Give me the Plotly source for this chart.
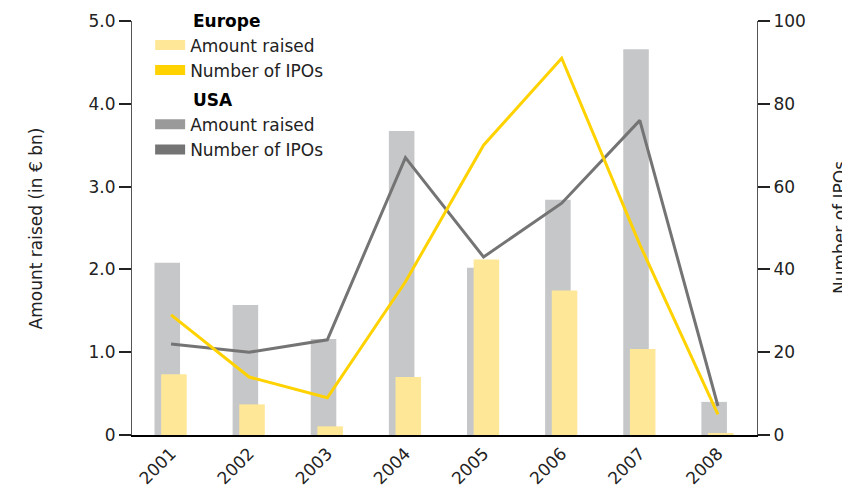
import plotly.graph_objects as go

years = ["2001", "2002", "2003", "2004", "2005", "2006", "2007", "2008"]
usa_amount = [2.08, 1.57, 1.16, 3.67, 2.02, 2.84, 4.66, 0.40]
europe_amount = [0.735, 0.37, 0.105, 0.70, 2.12, 1.745, 1.04, 0.015]
usa_ipos = [22, 20, 23, 67, 43, 56, 76, 7]
europe_ipos = [29, 14, 9, 37, 70, 91, 46, 5]

left_ticks = [0, 1, 2, 3, 4, 5]
left_ticklabels = ["0", "1.0", "2.0", "3.0", "4.0", "5.0"]
right_ticks = [0, 20, 40, 60, 80, 100]

C_EU_BAR = "#fee898"
C_EU_LINE = "#ffd200"
C_US_BAR = "#c6c7c9"
C_US_BAR_LEG = "#9a9a9a"
C_US_LINE = "#747474"
FONT = "DejaVu Sans"
TXT = "#222222"
FS = 17

fig = go.Figure()

fig.add_trace(go.Bar(x=years, y=usa_amount, marker_color=C_US_BAR, marker_line_width=0,
                     width=0.327, offset=-0.212, showlegend=False, yaxis="y"))
fig.add_trace(go.Bar(x=years, y=europe_amount, marker_color=C_EU_BAR, marker_line_width=0,
                     width=0.327, offset=-0.127, showlegend=False, yaxis="y"))
fig.add_trace(go.Scatter(x=years, y=usa_ipos, mode="lines", line=dict(color=C_US_LINE, width=3),
                         showlegend=False, yaxis="y2"))
fig.add_trace(go.Scatter(x=years, y=europe_ipos, mode="lines", line=dict(color=C_EU_LINE, width=3),
                         showlegend=False, yaxis="y2"))

# legend entries
pad = "\u00a0" * 7
leg = [
    ("Europe", "Amount raised", C_EU_BAR),
    ("Europe", "Number of IPOs", C_EU_LINE),
    ("USA", "Amount raised", C_US_BAR_LEG),
    ("USA", "Number of IPOs", C_US_LINE),
]
for grp, name, col in leg:
    fig.add_trace(go.Scatter(x=[None], y=[None], mode="lines", name=name,
                             line=dict(color=col, width=14),
                             legendgroup=grp,
                             legendgrouptitle=dict(text=pad + "<b>" + grp + "</b>",
                                                   font=dict(size=FS, color="#000000", family=FONT))))

# page body has an 8px default margin, so the figure is sized to fit the 850x490 window
fig.update_layout(
    width=842, height=482,
    margin=dict(l=124, r=93, t=13, b=55, autoexpand=False),
    paper_bgcolor="white", plot_bgcolor="white",
    barmode="overlay",
    font=dict(family=FONT, size=FS, color=TXT),
    xaxis=dict(type="category", showgrid=False, showline=True, linecolor="#000000", linewidth=2,
               ticks="", tickangle=-45, tickfont=dict(size=FS, color=TXT), zeroline=False),
    yaxis=dict(range=[0, 5], tickvals=left_ticks, ticktext=left_ticklabels, showgrid=False,
               showline=True, linecolor="#555555", linewidth=1, ticks="outside", ticklen=12,
               tickwidth=2, tickcolor="#222222", zeroline=False, tickfont=dict(size=FS, color=TXT)),
    yaxis2=dict(range=[0, 100], tickvals=right_ticks, overlaying="y", side="right", showgrid=False,
                showline=True, linecolor="#555555", linewidth=1, ticks="outside", ticklen=12,
                tickwidth=2, tickcolor="#222222", zeroline=False, tickfont=dict(size=FS, color=TXT)),
    legend=dict(x=0.029, y=1.045, xanchor="left", yanchor="top", bgcolor="rgba(0,0,0,0)",
                font=dict(size=FS, color=TXT, family=FONT), tracegroupgap=4, itemwidth=30),
    annotations=[
        dict(text="Amount raised (in € bn)", xref="paper", yref="paper", x=-0.153, y=0.5,
             textangle=-90, showarrow=False, xanchor="center", yanchor="middle",
             font=dict(size=FS, color=TXT, family=FONT)),
        dict(text="Number of IPOs", xref="paper", yref="paper", x=1.1328, y=0.5,
             textangle=-90, showarrow=False, xanchor="center", yanchor="middle",
             font=dict(size=FS, color=TXT, family=FONT)),
    ],
)

fig.write_html("out.html")
